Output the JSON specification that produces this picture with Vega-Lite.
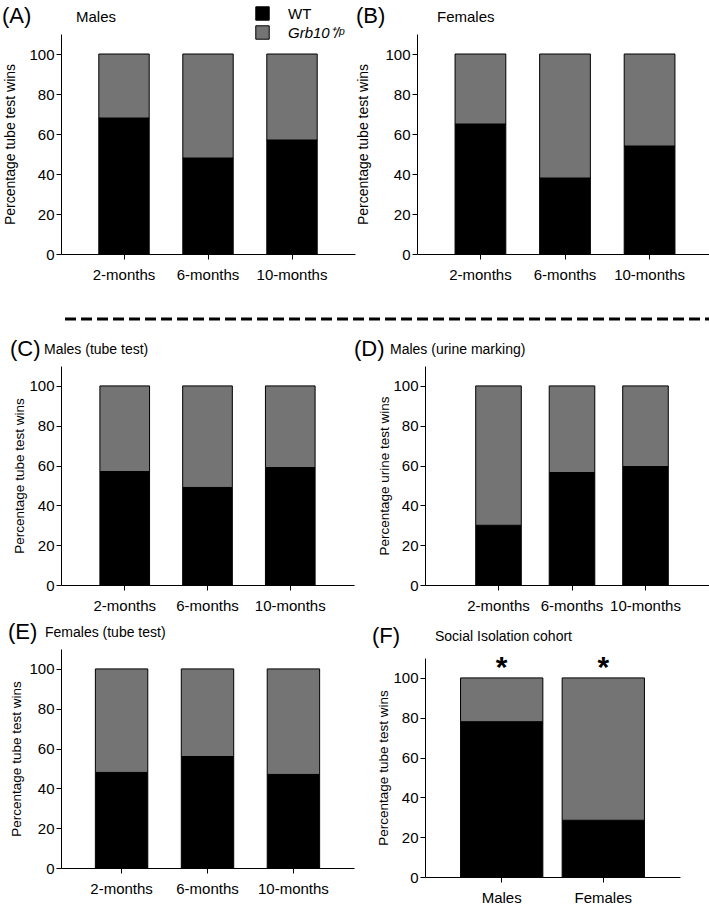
{
  "$schema": "https://vega.github.io/schema/vega-lite/v6.json",
  "background": "white",
  "padding": {"left": 1, "top": 5, "right": 0, "bottom": 0},
  "config": {
    "font": "Liberation Sans",
    "view": {"stroke": null},
    "title": {"anchor": "start", "frame": "bounds", "fontWeight": "normal", "color": "#000", "baseline": "bottom", "font": "Liberation Sans"},
    "axis": {"domainColor": "#000", "tickColor": "#000", "labelColor": "#000", "titleColor": "#000", "grid": false, "labelFont": "Liberation Sans", "titleFont": "Liberation Sans", "labelFontSize": 15, "titleFontSize": 14, "titleFontWeight": "normal", "tickSize": 5, "labelPadding": 2},
    "axisX": {"labelAngle": 0, "labelPadding": 8, "title": null},
    "legend": {"orient": "none", "legendX": 194, "legendY": -28, "symbolType": "square", "symbolSize": 180, "symbolStrokeWidth": 0, "labelFontSize": 15, "labelOffset": 18, "rowPadding": 0, "padding": 0, "labelColor": "#000", "labelFont": "Liberation Sans"},
    "bar": {"stroke": "#000", "strokeWidth": 1}
  },
  "datasets": {
    "wins": [
      {"panel": "A", "group": "2-months", "genotype": "WT", "pct": 68},
      {"panel": "A", "group": "2-months", "genotype": "Grb10⁺/ᵖ", "pct": 32},
      {"panel": "A", "group": "6-months", "genotype": "WT", "pct": 48},
      {"panel": "A", "group": "6-months", "genotype": "Grb10⁺/ᵖ", "pct": 52},
      {"panel": "A", "group": "10-months", "genotype": "WT", "pct": 57},
      {"panel": "A", "group": "10-months", "genotype": "Grb10⁺/ᵖ", "pct": 43},
      {"panel": "B", "group": "2-months", "genotype": "WT", "pct": 65},
      {"panel": "B", "group": "2-months", "genotype": "Grb10⁺/ᵖ", "pct": 35},
      {"panel": "B", "group": "6-months", "genotype": "WT", "pct": 38},
      {"panel": "B", "group": "6-months", "genotype": "Grb10⁺/ᵖ", "pct": 62},
      {"panel": "B", "group": "10-months", "genotype": "WT", "pct": 54},
      {"panel": "B", "group": "10-months", "genotype": "Grb10⁺/ᵖ", "pct": 46},
      {"panel": "C", "group": "2-months", "genotype": "WT", "pct": 57},
      {"panel": "C", "group": "2-months", "genotype": "Grb10⁺/ᵖ", "pct": 43},
      {"panel": "C", "group": "6-months", "genotype": "WT", "pct": 49},
      {"panel": "C", "group": "6-months", "genotype": "Grb10⁺/ᵖ", "pct": 51},
      {"panel": "C", "group": "10-months", "genotype": "WT", "pct": 59},
      {"panel": "C", "group": "10-months", "genotype": "Grb10⁺/ᵖ", "pct": 41},
      {"panel": "D", "group": "2-months", "genotype": "WT", "pct": 30},
      {"panel": "D", "group": "2-months", "genotype": "Grb10⁺/ᵖ", "pct": 70},
      {"panel": "D", "group": "6-months", "genotype": "WT", "pct": 56.5},
      {"panel": "D", "group": "6-months", "genotype": "Grb10⁺/ᵖ", "pct": 43.5},
      {"panel": "D", "group": "10-months", "genotype": "WT", "pct": 59.5},
      {"panel": "D", "group": "10-months", "genotype": "Grb10⁺/ᵖ", "pct": 40.5},
      {"panel": "E", "group": "2-months", "genotype": "WT", "pct": 48},
      {"panel": "E", "group": "2-months", "genotype": "Grb10⁺/ᵖ", "pct": 52},
      {"panel": "E", "group": "6-months", "genotype": "WT", "pct": 56},
      {"panel": "E", "group": "6-months", "genotype": "Grb10⁺/ᵖ", "pct": 44},
      {"panel": "E", "group": "10-months", "genotype": "WT", "pct": 47},
      {"panel": "E", "group": "10-months", "genotype": "Grb10⁺/ᵖ", "pct": 53},
      {"panel": "F", "group": "Males", "genotype": "WT", "pct": 78},
      {"panel": "F", "group": "Males", "genotype": "Grb10⁺/ᵖ", "pct": 22},
      {"panel": "F", "group": "Females", "genotype": "WT", "pct": 28.5},
      {"panel": "F", "group": "Females", "genotype": "Grb10⁺/ᵖ", "pct": 71.5}
    ],
    "stars": [
      {"group": "Males", "sig": "*"},
      {"group": "Females", "sig": "*"}
    ]
  },
  "columns": 1,
  "align": "none",
  "spacing": 13,
  "concat": [
    {
      "spacing": 0,
      "hconcat": [
        {
          "title": {"text": "(A)", "fontSize": 22, "offset": -18, "dx": -2},
          "vconcat": [{
            "title": {"text": "Males", "fontSize": 15, "frame": "group", "dx": 15, "offset": 9},
            "width": 294, "height": 220,
            "data": {"name": "wins"},
            "transform": [{"filter": "datum.panel == 'A'"}],
            "mark": "bar",
            "encoding": {
              "x": {"field": "group", "type": "nominal", "sort": null, "scale": {"paddingInner": 0.4, "paddingOuter": 0.45}},
              "y": {"field": "pct", "type": "quantitative", "stack": "zero", "scale": {"domain": [0, 110], "nice": false},
                    "axis": {"values": [0, 20, 40, 60, 80, 100], "title": "Percentage tube test wins", "titlePadding": 11}},
              "color": {"field": "genotype", "type": "nominal",
                        "scale": {"domain": ["WT", "Grb10⁺/ᵖ"], "range": ["#000000", "#747474"]},
                        "legend": {"title": null, "labelFontStyle": {"expr": "datum.label == 'WT' ? 'normal' : 'italic'"}}},
              "order": {"field": "genotype", "sort": "descending"}
            }
          }]
        },
        {
          "title": {"text": "(B)", "fontSize": 22, "offset": -18, "dx": -1},
          "vconcat": [{
            "title": {"text": "Females", "fontSize": 15, "frame": "group", "dx": 20, "offset": 9},
            "width": 296, "height": 220,
            "data": {"name": "wins"},
            "transform": [{"filter": "datum.panel == 'B'"}],
            "mark": "bar",
            "encoding": {
              "x": {"field": "group", "type": "nominal", "sort": null, "scale": {"paddingInner": 0.4, "paddingOuter": 0.45}},
              "y": {"field": "pct", "type": "quantitative", "stack": "zero", "scale": {"domain": [0, 110], "nice": false},
                    "axis": {"values": [0, 20, 40, 60, 80, 100], "title": "Percentage tube test wins", "titlePadding": 14}},
              "color": {"field": "genotype", "type": "nominal", "scale": {"domain": ["WT", "Grb10⁺/ᵖ"], "range": ["#000000", "#747474"]}},
              "order": {"field": "genotype", "sort": "descending"}
            }
          }]
        }
      ]
    },
    {
      "hconcat": [{
        "width": 671, "height": 30,
        "data": {"values": [{}]},
        "mark": {"type": "rule", "strokeDash": [11, 5], "strokeWidth": 3, "color": "#000"},
        "encoding": {
          "y": {"datum": 0, "type": "quantitative", "scale": {"domain": [-0.25, 1]},
                "axis": {"title": null, "labels": false, "ticks": false, "domain": false, "minExtent": 37, "maxExtent": 37}}
        }
      }]
    },
    {
      "spacing": -1,
      "hconcat": [
        {
          "spacing": 8,
          "vconcat": [
            {
              "title": {"text": "(C)", "fontSize": 22, "offset": -18, "dx": -3},
              "vconcat": [{
                "title": {"text": "Males (tube test)", "fontSize": 14, "frame": "group", "dx": -17, "offset": 9},
                "width": 293, "height": 219,
                "data": {"name": "wins"},
                "transform": [{"filter": "datum.panel == 'C'"}],
                "mark": "bar",
                "encoding": {
                  "x": {"field": "group", "type": "nominal", "sort": null, "scale": {"paddingInner": 0.4, "paddingOuter": 0.47}},
                  "y": {"field": "pct", "type": "quantitative", "stack": "zero", "scale": {"domain": [0, 110], "nice": false},
                        "axis": {"values": [0, 20, 40, 60, 80, 100], "title": "Percentage tube test wins", "titleFontSize": 13.5, "titlePadding": 2}},
                  "color": {"field": "genotype", "type": "nominal", "scale": {"domain": ["WT", "Grb10⁺/ᵖ"], "range": ["#000000", "#747474"]}},
                  "order": {"field": "genotype", "sort": "descending"}
                }
              }]
            },
            {
              "title": {"text": "(E)", "fontSize": 22, "offset": -18, "dx": -2},
              "vconcat": [{
                "title": {"text": "Females (tube test)", "fontSize": 14, "frame": "group", "dx": -16, "offset": 9},
                "width": 293, "height": 219,
                "data": {"name": "wins"},
                "transform": [{"filter": "datum.panel == 'E'"}],
                "mark": "bar",
                "encoding": {
                  "x": {"field": "group", "type": "nominal", "sort": null, "scale": {"paddingInner": 0.39, "paddingOuter": 0.4}},
                  "y": {"field": "pct", "type": "quantitative", "stack": "zero", "scale": {"domain": [0, 110], "nice": false},
                        "axis": {"values": [0, 20, 40, 60, 80, 100], "title": "Percentage tube test wins", "titleFontSize": 13.5, "titlePadding": 5}},
                  "color": {"field": "genotype", "type": "nominal", "scale": {"domain": ["WT", "Grb10⁺/ᵖ"], "range": ["#000000", "#747474"]}},
                  "order": {"field": "genotype", "sort": "descending"}
                }
              }]
            }
          ]
        },
        {
          "spacing": 11,
          "vconcat": [
            {
              "title": {"text": "(D)", "fontSize": 22, "offset": -18, "dx": -24},
              "vconcat": [{
                "title": {"text": "Males (urine marking)", "fontSize": 14, "frame": "group", "dx": -35, "offset": 9},
                "width": 294, "height": 219,
                "data": {"name": "wins"},
                "transform": [{"filter": "datum.panel == 'D'"}],
                "mark": "bar",
                "encoding": {
                  "x": {"field": "group", "type": "nominal", "sort": null, "scale": {"paddingInner": 0.38, "paddingOuter": 0.69}},
                  "y": {"field": "pct", "type": "quantitative", "stack": "zero", "scale": {"domain": [0, 110], "nice": false},
                        "axis": {"values": [0, 20, 40, 60, 80, 100], "title": "Percentage urine test wins", "titleFontSize": 13.5, "titlePadding": 1}},
                  "color": {"field": "genotype", "type": "nominal", "scale": {"domain": ["WT", "Grb10⁺/ᵖ"], "range": ["#000000", "#747474"]}},
                  "order": {"field": "genotype", "sort": "descending"}
                }
              }]
            },
            {
              "title": {"text": "(F)", "fontSize": 22, "offset": -18, "dx": 15},
              "vconcat": [{
                "title": {"text": "Social Isolation cohort", "fontSize": 14, "frame": "group", "dx": 10, "offset": 9},
                "width": 255, "height": 219,
                "layer": [
                  {
                    "data": {"name": "wins"},
                    "transform": [{"filter": "datum.panel == 'F'"}],
                    "mark": "bar",
                    "encoding": {
                      "x": {"field": "group", "type": "nominal", "sort": null, "scale": {"paddingInner": 0.19, "paddingOuter": 0.35}},
                      "y": {"field": "pct", "type": "quantitative", "stack": "zero", "scale": {"domain": [0, 110], "nice": false},
                            "axis": {"values": [0, 20, 40, 60, 80, 100], "title": "Percentage tube test wins", "titleFontSize": 13.5, "titlePadding": -33, "minExtent": 68, "maxExtent": 68}},
                      "color": {"field": "genotype", "type": "nominal", "scale": {"domain": ["WT", "Grb10⁺/ᵖ"], "range": ["#000000", "#747474"]}},
                      "order": {"field": "genotype", "sort": "descending"}
                    }
                  },
                  {
                    "data": {"name": "stars"},
                    "mark": {"type": "text", "fontSize": 30, "fontWeight": "bold", "baseline": "alphabetic", "align": "center", "dy": -1, "color": "#000"},
                    "encoding": {
                      "x": {"field": "group", "type": "nominal", "sort": null},
                      "y": {"datum": 100, "type": "quantitative"},
                      "text": {"field": "sig"}
                    }
                  }
                ]
              }]
            }
          ]
        }
      ]
    }
  ]
}
